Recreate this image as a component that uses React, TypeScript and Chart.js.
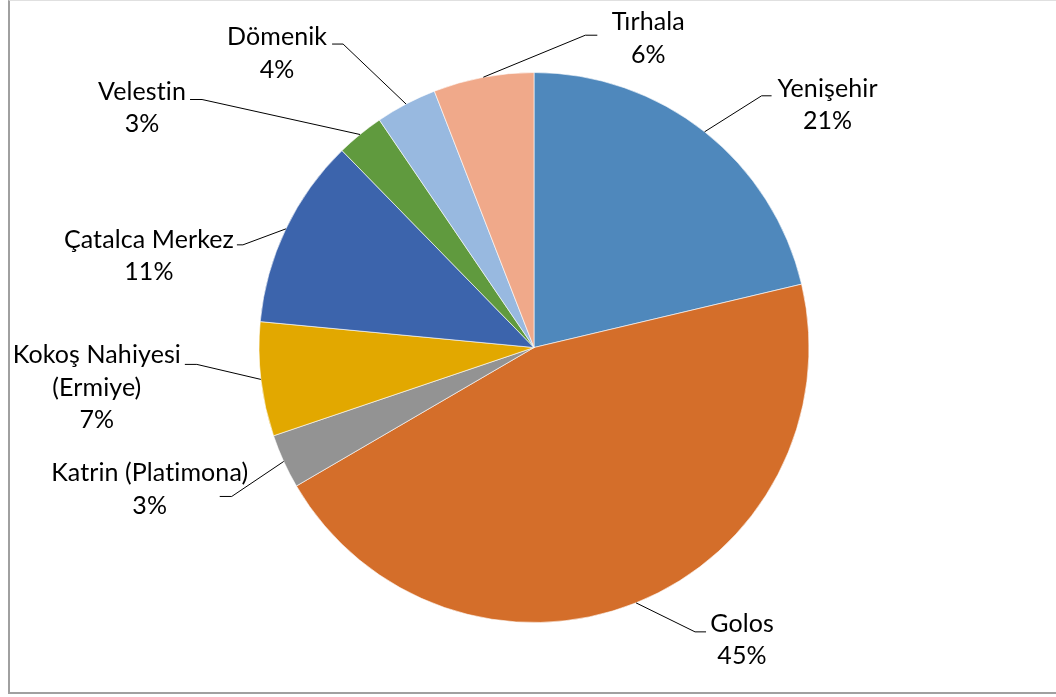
import React, { useEffect, useRef } from "react";
import { Chart, registerables } from "chart.js";

Chart.register(...registerables);

const categories = [
  "Yenişehir",
  "Golos",
  "Katrin (Platimona)",
  "Kokoş Nahiyesi (Ermiye)",
  "Çatalca Merkez",
  "Velestin",
  "Dömenik",
  "Tırhala",
];
const labelLines = [
  ["Yenişehir"],
  ["Golos"],
  ["Katrin (Platimona)"],
  ["Kokoş Nahiyesi", "(Ermiye)"],
  ["Çatalca Merkez"],
  ["Velestin"],
  ["Dömenik"],
  ["Tırhala"],
];
const shares = [21.3, 45.3, 3.2, 6.7, 11.2, 2.8, 3.6, 5.9];
const colors = [
  "#4F88BC",
  "#D46E2A",
  "#939393",
  "#E2A800",
  "#3C64AC",
  "#609A3E",
  "#98B9E0",
  "#F0A98A",
];

// leader-line styling: elbow offset from slice mid-edge, horizontal tail, text offset from tail end
const elbowOffsets = [
  [57, -36],
  [59, 29],
  [-52, 35],
  [-64, -15],
  [-43, 16],
  [-158, -35],
  [-63, -60],
  [102, -42],
];
const tailLengths = [10, 11, -12, -12, -6, -12, -11, 12];
const textOffsets = [
  [56, 1],
  [36, 0],
  [-70, -15],
  [-88, -1],
  [-88, 3],
  [-48, 0],
  [-55, 1],
  [51, -5],
];

const FONT = "25px Lato";
const LINE_H = 32.5;

const labelPlugin = {
  id: "leaderLabels",
  afterDatasetsDraw(chart: any) {
    const ctx = chart.ctx;
    const meta = chart.getDatasetMeta(0);
    const data = chart.data.datasets[0].data as number[];
    const total = data.reduce((a, b) => a + b, 0);
    ctx.save();
    meta.data.forEach((arc: any, i: number) => {
      const { x, y, startAngle, endAngle, outerRadius } = arc.getProps(
        ["x", "y", "startAngle", "endAngle", "outerRadius"],
        true
      );
      const mid = (startAngle + endAngle) / 2;
      const px = x + Math.cos(mid) * outerRadius;
      const py = y + Math.sin(mid) * outerRadius;
      const ex = px + elbowOffsets[i][0];
      const ey = py + elbowOffsets[i][1];
      const tx = ex + tailLengths[i];
      ctx.beginPath();
      ctx.strokeStyle = "#000";
      ctx.lineWidth = 1;
      ctx.moveTo(px, py);
      ctx.lineTo(ex, ey);
      ctx.lineTo(tx, ey);
      ctx.stroke();
      const lines = [...labelLines[i], Math.round((data[i] / total) * 100) + "%"];
      ctx.fillStyle = "#000";
      ctx.font = FONT;
      try {
        (ctx as any).letterSpacing = "0.1px";
      } catch (e) {}
      ctx.textAlign = "center";
      ctx.textBaseline = "alphabetic";
      const cx = tx + textOffsets[i][0];
      const by = ey + textOffsets[i][1];
      lines.forEach((l, k) => ctx.fillText(l, cx, by + k * LINE_H));
    });
    ctx.restore();
  },
};

export default function App() {
  const ref = useRef<HTMLCanvasElement>(null);
  useEffect(() => {
    if (!ref.current) return;
    const chart = new Chart(ref.current, {
      type: "pie",
      data: {
        labels: categories,
        datasets: [
          {
            data: shares,
            backgroundColor: colors,
            borderColor: "rgba(255,255,255,0.6)",
            borderWidth: 1,
          },
        ],
      },
      options: {
        animation: false,
        responsive: false,
        events: [],
        radius: 275,
        layout: { padding: { left: 259, right: 247, top: 72.5, bottom: 74.5 } },
        plugins: { legend: { display: false }, tooltip: { enabled: false } },
      },
      plugins: [labelPlugin],
    });
    return () => chart.destroy();
  }, []);
  return (
    <div style={{ position: "fixed", left: 0, top: 0, width: 1056, height: 697, background: "#fff" }}>
      <div
        style={{
          position: "absolute",
          left: 8,
          top: 0,
          width: 1060,
          height: 694,
          borderLeft: "2px solid #a0a0a0",
          borderBottom: "2px solid #a0a0a0",
          borderTop: "1px solid #e0e0e0",
          boxSizing: "border-box",
        }}
      />
      <canvas ref={ref} width={1056} height={697} style={{ position: "absolute", left: 0, top: 0 }} />
    </div>
  );
}
